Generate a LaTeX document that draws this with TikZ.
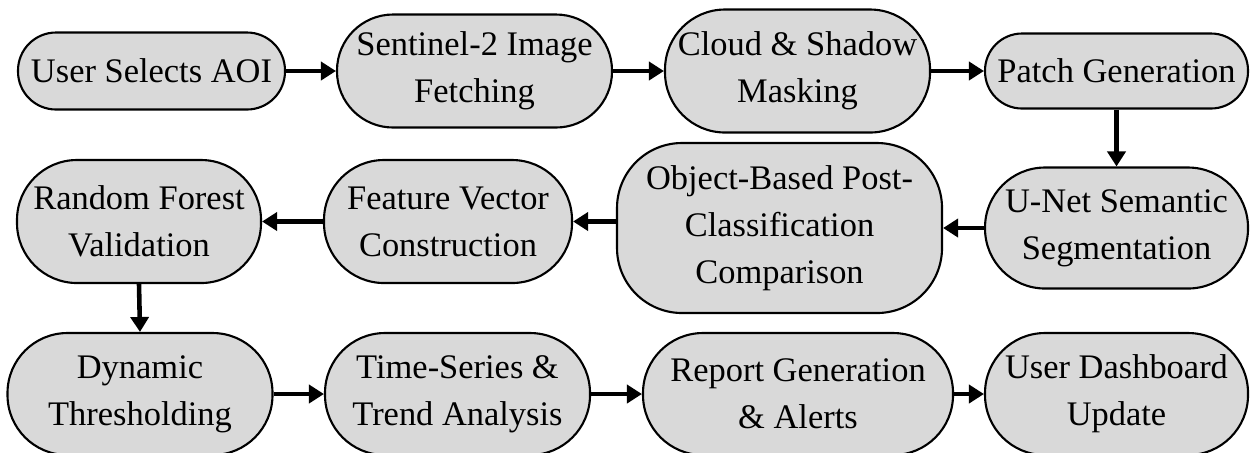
\documentclass[tikz,border=0pt]{standalone}
\usepackage{fontspec}
\setmainfont{Liberation Serif}
\usetikzlibrary{arrows.meta}
\definecolor{boxgray}{HTML}{D9D9D9}

\begin{document}
\begin{tikzpicture}[x=0.1mm, y=-0.1mm,
    stage/.style={draw, line width=0.6pt, fill=boxgray, align=center, inner sep=0pt,
      font=\fontsize{9.8}{13.4}\selectfont},
    flow/.style={line width=1.3pt, -{Triangle[length=1.5mm, width=1.8mm]}}]
  \useasboundingbox (0,0) rectangle (1250,452);

  % first row, left to right
  \node[stage, minimum width=26.7mm, minimum height=7.7mm, rounded corners=3.8mm] (aoi) at (151.5,71) {User Selects AOI};
  \node[stage, minimum width=27.5mm, minimum height=11.3mm, rounded corners=5.6mm] (fetch) at (474.5,71) {Sentinel-2 Image\\Fetching};
  \node[stage, minimum width=26.5mm, minimum height=12.3mm, rounded corners=6mm] (mask) at (797.5,71) {Cloud \& Shadow\\Masking};
  \node[stage, minimum width=26.3mm, minimum height=7.5mm, rounded corners=3.7mm] (patch) at (1116.5,71) {Patch Generation};

  % second row, right to left
  \node[stage, minimum width=26.3mm, minimum height=12.1mm, rounded corners=6mm] (unet) at (1116.5,228) {U-Net Semantic\\Segmentation};
  \node[stage, minimum width=32.5mm, minimum height=17mm, rounded corners=6.5mm] (obia) at (779.5,228) {Object-Based Post-\\Classification\\Comparison};
  \node[stage, minimum width=24.8mm, minimum height=12.3mm, rounded corners=6mm] (feat) at (448,221.5) {Feature Vector\\Construction};
  \node[stage, minimum width=24.4mm, minimum height=12.3mm, rounded corners=6mm] (rf) at (139,221.5) {Random Forest\\Validation};

  % third row, left to right
  \node[stage, minimum width=26.5mm, minimum height=12.2mm, rounded corners=6mm] (thresh) at (140,394) {Dynamic\\Thresholding};
  \node[stage, minimum width=26.5mm, minimum height=12.2mm, rounded corners=6mm] (trend) at (457.5,394) {Time-Series \&\\Trend Analysis};
  \node[stage, minimum width=31mm, minimum height=12.2mm, rounded corners=6mm] (report) at (798,394) {Report Generation\\\& Alerts};
  \node[stage, minimum width=26.3mm, minimum height=12.2mm, rounded corners=6mm] (dash) at (1116.5,394) {User Dashboard\\Update};

  \draw[flow] (aoi.east) -- (fetch.west);
  \draw[flow] (fetch.east) -- (mask.west);
  \draw[flow] (mask.east) -- (patch.west);
  \draw[flow] (patch.south) -- (unet.north);
  \draw[flow] (unet.west) -- (obia.east);
  \draw[flow] (obia.west |- feat.east) -- (feat.east);
  \draw[flow] (feat.west) -- (rf.east);
  \draw[flow] (rf.south) -- (thresh.north);
  \draw[flow] (thresh.east) -- (trend.west);
  \draw[flow] (trend.east) -- (report.west);
  \draw[flow] (report.east) -- (dash.west);

\end{tikzpicture}
\end{document}
